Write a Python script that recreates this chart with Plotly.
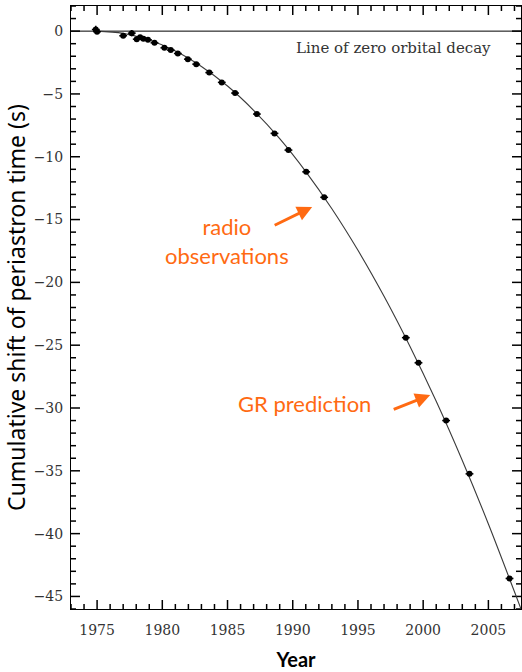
import plotly.graph_objects as go

# Observed cumulative periastron shift (radio observations)
obs_year = [1974.9, 1975.0, 1977.0, 1977.66, 1978.04, 1978.3, 1978.55, 1978.9, 1979.4,
            1980.16, 1980.65, 1981.19, 1981.96, 1982.6, 1983.6, 1984.56, 1985.58,
            1987.25, 1988.6, 1989.67, 1991.03, 1992.41, 1998.67, 1999.64, 2001.76,
            2003.55, 2006.62]
obs_shift = [0.13, -0.05, -0.37, -0.16, -0.64, -0.48, -0.61, -0.69, -0.93,
             -1.33, -1.51, -1.78, -2.23, -2.63, -3.30, -4.08, -4.93,
             -6.60, -8.14, -9.47, -11.20, -13.23, -24.40, -26.40, -31.00,
             -35.24, -43.57]
obs_err_y = [0.30, 0.15, 0.15, 0.25, 0.12, 0.12, 0.10, 0.10, 0.10,
             0.08, 0.08, 0.08, 0.06, 0.06, 0.06, 0.06, 0.06,
             0.05, 0.05, 0.05, 0.05, 0.05, 0.05, 0.05, 0.05,
             0.05, 0.05]
obs_err_x = [0.3] * len(obs_year)

# GR prediction curve
gr_year = [1974.97, 1977, 1979, 1981, 1983, 1985, 1987, 1989, 1991, 1993, 1995,
           1997, 1999, 2001, 2003, 2005, 2007, 2007.5]
gr_shift = [0.0, -0.18, -0.71, -1.58, -2.81, -4.37, -6.30, -8.56, -11.18, -14.14, -17.45,
            -21.11, -25.12, -29.47, -34.18, -39.23, -44.63, -46.0]

# Zero orbital decay line
zero_year = [1973, 2007.5]
zero_shift = [0, 0]

# Axis ranges and tick values
x_range = [1973, 2007.5]
y_range = [-46, 2]
x_major = [1975, 1980, 1985, 1990, 1995, 2000, 2005]
x_minor = [y for y in range(1973, 2008) if y not in x_major]
y_major = [0, -5, -10, -15, -20, -25, -30, -35, -40, -45]
y_minor = [v for v in range(-46, 3) if v not in y_major]

W, H = 522, 672
M = dict(l=71, r=1, t=6, b=63)
px_per_x = (W - M["l"] - M["r"]) / (x_range[1] - x_range[0])
px_per_y = (H - M["t"] - M["b"]) / (y_range[1] - y_range[0])

orange = "#ff6a12"

fig = go.Figure()

# Inside tick marks on all four sides, built from the tick lists through the axes' scales
tx, ty = [], []
for vals, length in ((x_major, 9), (x_minor, 5)):
    dy = length / px_per_y
    for v in vals:
        tx += [v, v, None, v, v, None]
        ty += [y_range[0], y_range[0] + dy, None, y_range[1], y_range[1] - dy, None]
for vals, length in ((y_major, 9), (y_minor, 5)):
    dx = length / px_per_x
    for v in vals:
        tx += [x_range[0], x_range[0] + dx, None, x_range[1], x_range[1] - dx, None]
        ty += [v, v, None, v, v, None]
fig.add_trace(go.Scatter(x=tx, y=ty, mode="lines", line=dict(color="black", width=1.5),
                         connectgaps=False, showlegend=False, hoverinfo="skip",
                         cliponaxis=False, name="ticks"))

fig.add_trace(go.Scatter(x=zero_year, y=zero_shift, mode="lines",
                         line=dict(color="black", width=1), showlegend=False,
                         hoverinfo="skip"))
fig.add_trace(go.Scatter(x=gr_year, y=gr_shift, mode="lines",
                         line=dict(color="#3a3a3a", width=1.1, shape="spline"),
                         showlegend=False, name="GR prediction"))
fig.add_trace(go.Scatter(x=obs_year, y=obs_shift, mode="markers",
                         marker=dict(color="black", size=6),
                         error_x=dict(type="data", array=obs_err_x, color="black",
                                      thickness=1.5, width=0),
                         error_y=dict(type="data", array=obs_err_y, color="black",
                                      thickness=1.5, width=0),
                         showlegend=False, name="radio observations"))

fig.add_annotation(x=1997.7, y=-1.35, text="Line of zero orbital decay", showarrow=False,
                   font=dict(family="DejaVu Serif", size=15, color="#333333"))
fig.add_annotation(x=1984.97, y=-16.7, text="radio<br>observations", showarrow=False,
                   font=dict(family="Lato", size=22, color=orange))
fig.add_annotation(x=1990.87, y=-29.67, text="GR prediction", showarrow=False,
                   font=dict(family="Lato", size=22, color=orange))
fig.add_annotation(x=1991.49, y=-14.0, ax=-39, ay=19, text="", showarrow=True,
                   arrowhead=2, arrowsize=1, arrowwidth=3, arrowcolor=orange)
fig.add_annotation(x=2000.54, y=-28.96, ax=-38, ay=15, text="", showarrow=True,
                   arrowhead=2, arrowsize=1, arrowwidth=3, arrowcolor=orange)

fig.update_xaxes(range=x_range, tickmode="array", tickvals=x_major, ticks="",
                 showline=True, linecolor="black", linewidth=1, mirror=True,
                 showgrid=False, zeroline=False, ticklabelstandoff=8,
                 tickfont=dict(family="DejaVu Serif", size=14, color="#333333"),
                 title=dict(text="<b>Year</b>", font=dict(family="Lato", size=20, color="black"),
                            standoff=16))
fig.update_yaxes(range=y_range, tickmode="array", tickvals=y_major, ticks="",
                 showline=True, linecolor="black", linewidth=1, mirror=True,
                 showgrid=False, zeroline=False, ticklabelstandoff=4,
                 tickfont=dict(family="DejaVu Serif", size=14, color="#333333"),
                 title=dict(text="Cumulative shift of periastron time (s)",
                            font=dict(family="Noto Sans", size=23, color="black"), standoff=4))

fig.update_layout(template="none", width=W, height=H, margin=M,
                  plot_bgcolor="white", paper_bgcolor="white")

fig.write_html("out.html", config={"displayModeBar": False},
               post_script="document.body.style.margin='0';document.body.style.padding='0';")
